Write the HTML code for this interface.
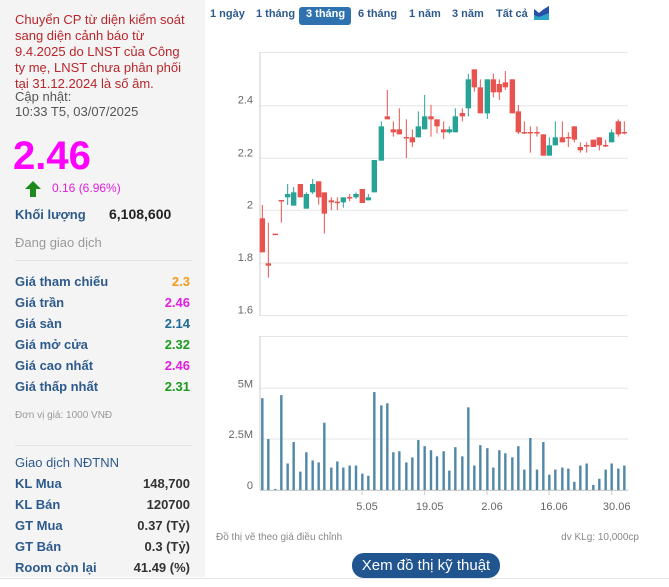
<!DOCTYPE html>
<html><head><meta charset="utf-8"><style>
body{margin:0;width:669px;height:587px;background:#fff;font-family:"Liberation Sans",Arial,sans-serif;position:relative;overflow:hidden}
.a{position:absolute;white-space:nowrap}
#lp{position:absolute;left:0;top:0;width:205px;height:577px;background:#f4f4f5}
.lb{color:#2d5a8c;font-weight:bold;font-size:13px;left:15px}
.v{font-weight:bold;font-size:13px;right:479px;text-align:right}
.m{color:#2d5a8c;font-weight:bold;font-size:11px;top:8px}
</style></head><body>
<div id="lp"></div>
<div class="a" style="left:15px;top:12px;color:#b8262a;font-size:13px;line-height:16px">Chuyển CP từ diện kiểm soát<br>sang diện cảnh báo từ<br>9.4.2025 do LNST của Công<br>ty mẹ, LNST chưa phân phối<br>tại 31.12.2024 là số âm.</div>
<div class="a" style="left:15px;top:89px;color:#555;font-size:13px;line-height:15px">Cập nhật:<br>10:33 T5, 03/07/2025</div>
<div class="a" style="left:13px;top:134px;color:#f0f;font-size:40px;font-weight:bold">2.46</div>
<svg class="a" style="left:24px;top:180px" width="18" height="18"><polygon points="9,1 17,9 12,9 12,17 6,17 6,9 1,9" fill="#1c8a1c"/></svg>
<div class="a" style="left:52px;top:181px;color:#e020e0;font-size:12px">0.16 (6.96%)</div>
<div class="a lb" style="top:207px">Khối lượng</div>
<div class="a" style="left:109px;top:206px;font-size:14px;font-weight:bold;color:#222">6,108,600</div>
<div class="a" style="left:15px;top:235px;color:#999;font-size:13px">Đang giao dịch</div>
<div class="a" style="left:15px;top:260px;width:177px;border-top:1px solid #e4e4e4"></div>
<div class="a lb" style="top:274px">Giá tham chiếu</div><div class="a v" style="top:274px;color:#f29a1c">2.3</div>
<div class="a lb" style="top:295px">Giá trần</div><div class="a v" style="top:295px;color:#e020e0">2.46</div>
<div class="a lb" style="top:316px">Giá sàn</div><div class="a v" style="top:316px;color:#1d6a96">2.14</div>
<div class="a lb" style="top:337px">Giá mở cửa</div><div class="a v" style="top:337px;color:#1c9a1c">2.32</div>
<div class="a lb" style="top:358px">Giá cao nhất</div><div class="a v" style="top:358px;color:#e020e0">2.46</div>
<div class="a lb" style="top:379px">Giá thấp nhất</div><div class="a v" style="top:379px;color:#1c9a1c">2.31</div>
<div class="a" style="left:15px;top:410px;color:#999;font-size:10px">Đơn vị giá: 1000 VNĐ</div>
<div class="a" style="left:15px;top:445px;width:177px;border-top:1px solid #e4e4e4"></div>
<div class="a lb" style="top:455px;font-weight:normal;color:#2d5a8c">Giao dịch NĐTNN</div>
<div class="a lb" style="top:476px">KL Mua</div><div class="a v" style="top:476px;color:#333">148,700</div>
<div class="a lb" style="top:497px">KL Bán</div><div class="a v" style="top:497px;color:#333">120700</div>
<div class="a lb" style="top:518px">GT Mua</div><div class="a v" style="top:518px;color:#333">0.37 (Tỷ)</div>
<div class="a lb" style="top:539px">GT Bán</div><div class="a v" style="top:539px;color:#333">0.3 (Tỷ)</div>
<div class="a lb" style="top:560px">Room còn lại</div><div class="a v" style="top:560px;color:#333">41.49 (%)</div>
<div class="a" style="left:0;top:578px;width:669px;border-top:1px solid #e4e4e4"></div>

<div class="a m" style="left:210px">1 ngày</div>
<div class="a m" style="left:256px">1 tháng</div>
<div class="a" style="left:299px;top:7px;width:52px;height:18px;background:#2f72b0;border-radius:3px"></div>
<div class="a m" style="left:306px;color:#fff">3 tháng</div>
<div class="a m" style="left:358px">6 tháng</div>
<div class="a m" style="left:409px">1 năm</div>
<div class="a m" style="left:452px">3 năm</div>
<div class="a m" style="left:496px">Tất cả</div>
<svg class="a" style="left:534px;top:5px" width="16" height="16"><polygon points="0,4 5,8 10,4 15,1 15,15 0,15" fill="#2aa5c8"/><polygon points="0,4 5,8 10,4 15,1 15,8 10,10 5,12 0,10" fill="#2a4fa8"/></svg>

<svg id="ch" class="a" style="left:0;top:0" width="669" height="587"></svg>
<div class="a" style="left:216px;top:532px;color:#888;font-size:10px">Đồ thị vẽ theo giá điều chỉnh</div>
<div class="a" style="right:30px;top:532px;color:#888;font-size:10px">dv KLg: 10,000cp</div>
<div class="a" style="left:352px;top:553px;width:148px;height:25px;background:#20558f;border-radius:12px;color:#fff;font-size:15px;line-height:25px;text-align:center">Xem đồ thị kỹ thuật</div>
<script>
var s='',L=260,R=628;
function ln(x1,y1,x2,y2,c,w){s+='<line x1="'+x1+'" y1="'+y1+'" x2="'+x2+'" y2="'+y2+'" stroke="'+c+'" stroke-width="'+(w||1)+'"/>';}
function tx(x,y,t,a){s+='<text x="'+x+'" y="'+y+'" font-size="11" fill="#666" text-anchor="'+(a||'end')+'" font-family="Liberation Sans,Arial,sans-serif">'+t+'</text>';}
ln(L,52.5,R,52.5,'#e6e6e6');
[[105.7,'2.4'],[158.3,'2.2'],[210.3,'2'],[263,'1.8'],[315.5,'1.6']].forEach(function(g){ln(L,g[0],R,g[0],'#e6e6e6');tx(253,g[0]-2,g[1]);});
ln(L,52,L,316,'#ccc');
ln(L,336.5,R,336.5,'#e6e6e6');
[[388.3,'5M'],[439,'2.5M'],[490,'0']].forEach(function(g){ln(L,g[0],R,g[0],'#e6e6e6');tx(253,g[0]-1,g[1]);});
ln(L,336,L,490,'#ccc');ln(L,490.5,R,490.5,'#ccc');
[[362,'5.05'],[424.7,'19.05'],[487,'2.06'],[549,'16.06'],[611.7,'30.06']].forEach(function(g){ln(g[0],490,g[0],495,'#ccc');tx(g[0]+5,510,g[1],'middle');});
var C=[[187,'r',535,637,495,637],[205,'r',670,677,548,713],[226,'r',581,584,581,584],[244,'r',480,483,481,548],[263,'g',462,472,432,495],[281,'g',457,497,441,497],[301,'r',432,472,432,472],[319,'g',462,506,457,506],[338,'g',432,457,417,462],[356,'r',424,472,424,494],[373,'r',457,521,457,581],[394,'r',481,487,472,510],[412,'r',485,488,472,510],[430,'g',472,487,472,503],[449,'r',471,474,462,484],[468,'g',462,472,457,477],[487,'r',447,489,447,489],[505,'g',472,481,462,481],[523,'g',360,457,360,457],[544,'g',259,362,244,362],[562,'r',229,238,150,238],[580,'r',268,277,244,290],[598,'r',268,283,205,283],[619,'r',291,294,238,354],[637,'r',292,307,268,321],[655,'g',259,292,214,292],[674,'g',229,268,165,268],[693,'r',229,238,195,290],[711,'r',238,259,238,280],[731,'r',268,277,244,297],[748,'g',268,277,259,281],[766,'g',229,277,205,277],[787,'r',219,229,205,244],[805,'g',118,205,101,229],[823,'r',88,142,88,155],[841,'r',142,220,118,220],[862,'g',118,220,118,237],[880,'r',118,157,101,172],[898,'r',132,157,118,180],[916,'r',127,142,93,150],[937,'r',118,220,118,220],[955,'r',214,277,195,282],[973,'r',276,279,244,282],[991,'r',276,279,259,338],[1011,'r',276,279,259,290],[1030,'r',283,347,283,347],[1048,'g',316,347,292,347],[1066,'g',292,316,244,316],[1087,'r',292,307,244,307],[1105,'r',291,294,277,321],[1123,'r',259,299,259,307],[1141,'r',321,331,307,338],[1160,'r',315,318,307,338],[1180,'r',299,321,299,321],[1198,'r',292,316,292,331],[1217,'r',315,318,299,321],[1235,'g',277,307,268,307],[1255,'r',244,283,238,290],[1273,'r',276,279,244,283]];
var V=[4.5,2.5,0.05,4.65,1.3,2.35,0.9,1.85,1.45,1.35,3.3,1.1,1.4,1.1,1.2,1.2,0.8,0.7,4.8,4.15,4.25,1.85,1.9,1.35,1.6,2.45,2.15,1.95,1.65,1.9,0.95,2.1,1.65,4.05,1.2,2.2,2.05,1.1,1.95,1.8,1.6,2.15,1.0,2.55,1.0,2.35,0.75,1.0,1.1,1.05,0.4,1.2,1.3,0.25,0.55,1.0,1.3,1.05,1.2];
C.forEach(function(c,i){var x=200+c[0]/3,col=c[1]=='r'?'#e8534f':'#26a394';
ln(x,40+c[4]/3,x,40+c[5]/3,col,1);
var t=40+c[2]/3,b=40+c[3]/3;if(b-t<1.5)b=t+1.5;
s+='<rect x="'+(x-2.7)+'" y="'+t+'" width="5.4" height="'+(b-t)+'" fill="'+col+'"/>';
var h=V[i]*20.4;s+='<rect x="'+(x-1.2)+'" y="'+(490-h)+'" width="2.4" height="'+h+'" fill="#4f87a6"/>';});
document.getElementById('ch').innerHTML=s;
</script>
</body></html>
